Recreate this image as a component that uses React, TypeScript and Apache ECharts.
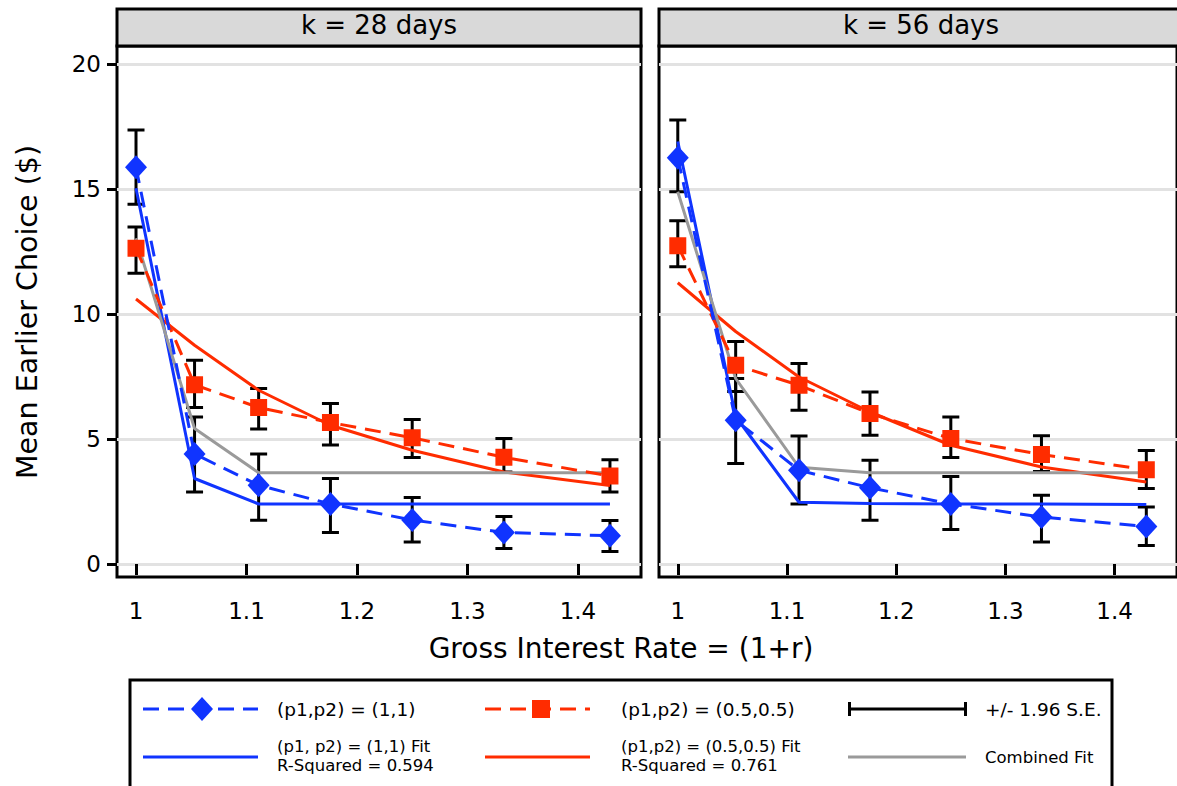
import React, { useEffect, useRef } from "react";
import * as echarts from "echarts";

const FONT = "DejaVu Sans";
const BLUE = "#1034ff";
const RED = "#ff2c00";
const GRAY = "#9a9a9a";

const panelTitles = ["k = 28 days", "k = 56 days"];
const rates = [1, 1.053, 1.111, 1.176, 1.25, 1.333, 1.429];
const xTicks = [1, 1.1, 1.2, 1.3, 1.4];
const yTicks = [0, 5, 10, 15, 20];

// k = 28 days
const blue28 = [15.87, 4.4, 3.15, 2.4, 1.76, 1.26, 1.13];
const blue28Lo = [14.39, 2.88, 1.75, 1.26, 0.88, 0.62, 0.5];
const blue28Hi = [17.36, 5.88, 4.4, 3.42, 2.66, 1.9, 1.74];
const red28 = [12.63, 7.17, 6.26, 5.66, 5.05, 4.27, 3.52];
const red28Lo = [11.63, 6.26, 5.4, 4.76, 4.26, 3.68, 2.88];
const red28Hi = [13.48, 8.15, 7.02, 6.42, 5.78, 5.02, 4.17];
const blueFit28 = [15.03, 3.42, 2.4, 2.4, 2.4, 2.4, 2.4];
const redFit28 = [10.6, 8.75, 6.95, 5.55, 4.55, 3.68, 3.14];
const combFit28 = [13.03, 5.42, 3.65, 3.65, 3.65, 3.65, 3.65];

// k = 56 days
const blue56 = [16.25, 5.75, 3.75, 3.05, 2.4, 1.88, 1.5];
const blue56Lo = [14.89, 4.02, 2.4, 1.75, 1.38, 0.88, 0.74];
const blue56Hi = [17.76, 7.42, 5.12, 4.15, 3.5, 2.75, 2.28];
const red56 = [12.73, 7.95, 7.15, 6.02, 5.02, 4.38, 3.77];
const red56Lo = [11.89, 6.9, 6.15, 5.15, 4.26, 3.7, 3.02];
const red56Hi = [13.73, 8.9, 8.02, 6.88, 5.88, 5.13, 4.54];
const blueFit56 = [16.9, 5.9, 2.47, 2.42, 2.4, 2.4, 2.38];
const redFit56 = [11.25, 9.3, 7.48, 6.08, 4.75, 3.88, 3.28];
const combFit56 = [14.89, 7.42, 3.87, 3.65, 3.65, 3.65, 3.65];

const legendLabels = [
  "(p1,p2) = (1,1)",
  "(p1,p2) = (0.5,0.5)",
  "+/- 1.96 S.E.",
  "(p1, p2) = (1,1) Fit\nR-Squared = 0.594",
  "(p1,p2) = (0.5,0.5) Fit\nR-Squared = 0.761",
  "Combined Fit",
];

const pts = (ys: number[]) => rates.map((x, i) => [x, ys[i]]);
const bars = (lo: number[], hi: number[]) => rates.map((x, i) => [x, lo[i], hi[i]]);

function errorSeries(idx: number, lo: number[], hi: number[]) {
  return {
    type: "custom",
    xAxisIndex: idx,
    yAxisIndex: idx,
    z: 2,
    data: bars(lo, hi),
    encode: { x: 0, y: [1, 2] },
    renderItem: (params: any, api: any) => {
      const x = api.value(0);
      const a = api.coord([x, api.value(1)]);
      const b = api.coord([x, api.value(2)]);
      const w = 8.5;
      const st = { stroke: "#000", lineWidth: 3 };
      return {
        type: "group",
        children: [
          { type: "line", shape: { x1: a[0], y1: a[1], x2: b[0], y2: b[1] }, style: st },
          { type: "line", shape: { x1: a[0] - w, y1: a[1], x2: a[0] + w, y2: a[1] }, style: st },
          { type: "line", shape: { x1: b[0] - w, y1: b[1], x2: b[0] + w, y2: b[1] }, style: st },
        ],
      };
    },
  };
}

function fitSeries(idx: number, ys: number[], color: string, z: number) {
  return {
    type: "line",
    xAxisIndex: idx,
    yAxisIndex: idx,
    data: pts(ys),
    symbol: "none",
    z,
    lineStyle: { color, width: 3 },
  };
}

function dataSeries(idx: number, ys: number[], color: string, symbol: string, size: any, z: number) {
  return {
    type: "line",
    xAxisIndex: idx,
    yAxisIndex: idx,
    data: pts(ys),
    symbol,
    symbolSize: size,
    showAllSymbol: true,
    z,
    itemStyle: { color },
    lineStyle: { color, width: 3, type: [16, 9] },
  };
}

export default function App() {
  const ref = useRef<HTMLDivElement>(null);
  useEffect(() => {
    document.body.style.margin = "0";
    const chart = echarts.init(ref.current!, null, { renderer: "svg" });
    const lefts = [117, 659];
    const grids = lefts.map((l) => ({
      left: l,
      top: 46,
      width: 524,
      height: 531,
      show: true,
      borderColor: "#000",
      borderWidth: 3,
      backgroundColor: "transparent",
    }));
    const xAxes = lefts.map((_, i) => ({
      type: "value",
      gridIndex: i,
      min: 0.9828,
      max: 1.4571,
      axisLine: { show: false },
      axisTick: { show: true, customValues: xTicks, length: 11, lineStyle: { color: "#000", width: 3 } },
      axisLabel: { customValues: xTicks, fontSize: 23, fontFamily: FONT, color: "#000", margin: 22 },
      splitLine: { show: false },
    }));
    const yAxes = lefts.map((_, i) => ({
      type: "value",
      gridIndex: i,
      min: -0.52,
      max: 20.72,
      axisLine: { show: false },
      axisTick: { show: i === 0, customValues: yTicks, length: 10, lineStyle: { color: "#000", width: 3 } },
      axisLabel: { show: i === 0, customValues: yTicks, fontSize: 23, fontFamily: FONT, color: "#000", margin: 16 },
      splitLine: { show: true, lineStyle: { color: "#e2e2e2", width: 3 } },
    }));

    const panels = [
      { b: blue28, bl: blue28Lo, bh: blue28Hi, r: red28, rl: red28Lo, rh: red28Hi, bf: blueFit28, rf: redFit28, cf: combFit28 },
      { b: blue56, bl: blue56Lo, bh: blue56Hi, r: red56, rl: red56Lo, rh: red56Hi, bf: blueFit56, rf: redFit56, cf: combFit56 },
    ];
    const series: any[] = [];
    panels.forEach((p, i) => {
      series.push(errorSeries(i, p.rl, p.rh));
      series.push(errorSeries(i, p.bl, p.bh));
      series.push(fitSeries(i, p.rf, RED, 3));
      series.push(fitSeries(i, p.bf, BLUE, 3));
      series.push(fitSeries(i, p.cf, GRAY, 3));
      series.push(dataSeries(i, p.r, RED, "rect", 17, 4));
      series.push(dataSeries(i, p.b, BLUE, "diamond", [22, 24], 5));
    });

    const txt = (x: number, y: number, text: string, size: number, align = "left", extra: any = {}, lh?: number) => ({
      type: "text",
      x,
      y,
      ...extra,
      style: {
        text,
        fontSize: size,
        fontFamily: FONT,
        fill: "#000",
        align,
        verticalAlign: "middle",
        textAlign: align,
        textVerticalAlign: "middle",
        lineHeight: lh || size + 3,
      },
    });
    const ln = (x1: number, y1: number, x2: number, y2: number, stroke: string, dash?: number[]) => ({
      type: "line",
      shape: { x1, y1, x2, y2 },
      style: { stroke, lineWidth: 3, lineDash: dash },
    });

    const graphics: any[] = [];
    lefts.forEach((l, i) => {
      graphics.push({
        type: "rect",
        shape: { x: l, y: 9, width: 524, height: 37 },
        style: { fill: "#d9d9d9", stroke: "#000", lineWidth: 3 },
        z: 10,
      });
      graphics.push({ ...txt(l + 262, 25, panelTitles[i], 26, "center"), z: 11 });
    });
    graphics.push(txt(27, 312, "Mean Earlier Choice ($)", 28.5, "center", { rotation: Math.PI / 2 }));
    graphics.push(txt(621, 648, "Gross Interest Rate = (1+r)", 28, "center"));

    // legend
    graphics.push({
      type: "rect",
      shape: { x: 130, y: 680, width: 982, height: 200 },
      style: { fill: "none", stroke: "#000", lineWidth: 3 },
    });
    const r1 = 709;
    const r2 = 757;
    graphics.push(ln(143, r1, 258, r1, BLUE, [16, 9]));
    graphics.push({
      type: "polygon",
      shape: { points: [[202, r1 - 12], [213, r1], [202, r1 + 12], [191, r1]] },
      style: { fill: BLUE },
    });
    graphics.push(txt(277, r1, legendLabels[0], 18.5));
    graphics.push(ln(485, r1, 590, r1, RED, [16, 9]));
    graphics.push({ type: "rect", shape: { x: 532, y: r1 - 9, width: 18, height: 18 }, style: { fill: RED } });
    graphics.push(txt(621, r1, legendLabels[1], 18.5));
    graphics.push(ln(848, r1, 967, r1, "#000"));
    graphics.push(ln(849.5, r1 - 7, 849.5, r1 + 7, "#000"));
    graphics.push(ln(965.5, r1 - 7, 965.5, r1 + 7, "#000"));
    graphics.push(txt(985, r1, legendLabels[2], 18.5));

    graphics.push(ln(143, r2, 258, r2, BLUE));
    graphics.push(txt(277, r2 - 1, legendLabels[3], 16.5, "left", {}, 19));
    graphics.push(ln(485, r2, 590, r2, RED));
    graphics.push(txt(621, r2 - 1, legendLabels[4], 16.5, "left", {}, 19));
    graphics.push(ln(848, r2, 966, r2, GRAY));
    graphics.push(txt(985, r2, legendLabels[5], 16.5));

    chart.setOption({
      animation: false,
      backgroundColor: "#fff",
      textStyle: { fontFamily: FONT },
      grid: grids,
      xAxis: xAxes,
      yAxis: yAxes,
      series,
      graphic: graphics,
    });
    return () => chart.dispose();
  }, []);
  return <div ref={ref} style={{ width: 1177, height: 786 }} />;
}
